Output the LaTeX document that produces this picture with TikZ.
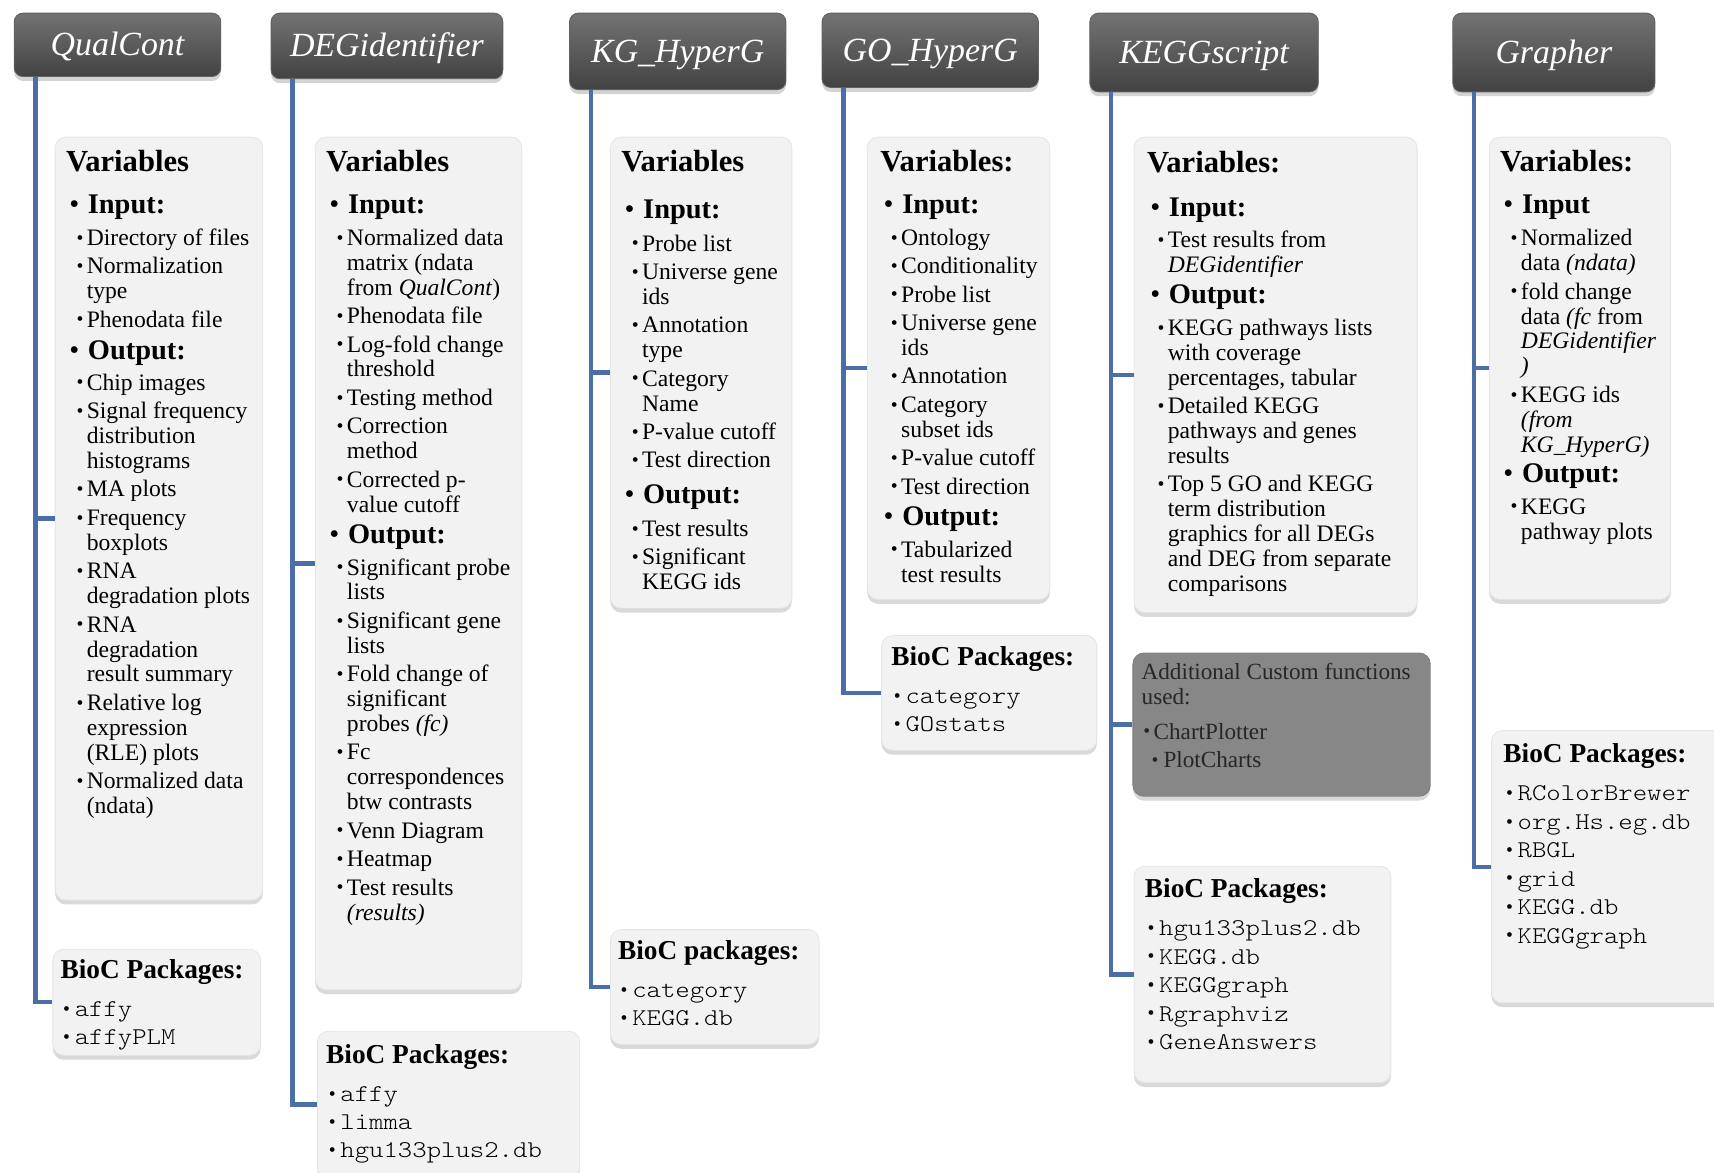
\documentclass[tikz,border=0pt]{standalone}
\usepackage{fontspec}
\setmainfont{Liberation Serif}
\setmonofont{Latin Modern Mono Light}[FakeStretch=1.14]
\usetikzlibrary{shadows}
\definecolor{trunkblue}{RGB}{74,110,165}

\newcommand{\vhd}[1]{{\fontsize{14}{14}\selectfont\bfseries #1}}
\newcommand{\pkhd}[1]{{\rmfamily\fontsize{12.5}{12.5}\selectfont\bfseries #1}}
\newcommand{\lvA}[1]{\hspace*{1.5pt}\makebox[8.5pt][l]{\fontsize{13}{13}\selectfont\textbullet}{\fontsize{13}{13}\selectfont\bfseries #1}}
\newcommand{\lvB}{\hspace*{4.8pt}\makebox[4.7pt][l]{\raisebox{.6pt}{\fontsize{9}{9}\selectfont\textbullet}}}
\newcommand{\lvC}{\hspace*{9.5pt}}
\newcommand{\pk}{\hspace*{1.2pt}\makebox[5.3pt][l]{\rmfamily\raisebox{.6pt}{\fontsize{9}{9}\selectfont\textbullet}}}

\begin{document}
\begin{tikzpicture}[x=0.5pt, y=0.5pt,
  hdr/.style={rounded corners=4pt, top color=black!55, bottom color=black!74, draw=black!62,
    text=white, font=\fontsize{15.5}{16}\selectfont\itshape, text height=10pt, text depth=0pt,
    drop shadow={shadow xshift=0pt, shadow yshift=-2pt, opacity=.35}},
  card/.style={anchor=north west, rounded corners=5pt, inner sep=0pt, fill=black!5, draw=black!10,
    drop shadow={shadow xshift=0pt, shadow yshift=-2pt, opacity=.3}},
  darkcard/.style={card, fill=black!47, draw=black!50},
  txt/.style={anchor=north west, inner sep=0pt, align=left, font=\fontsize{10.8}{11.4}\selectfont},
  pktxt/.style={txt, font=\ttfamily\fontsize{11}{12.8}\selectfont},
  link/.style={trunkblue, line width=2pt}]
  \useasboundingbox (0,0) rectangle (1568,-1073);

  % script headers and the start of their trunks
  \foreach \n/\cx/\cy/\w/\h/\t in {qc/107.5/-41/94.5pt/29pt/QualCont, deg/354/-42/106pt/30pt/DEGidentifier,
      kg/620/-47/99pt/35pt/KG\_HyperG, go/851/-46/99pt/34pt/GO\_HyperG,
      kegg/1101.5/-48/104.5pt/36pt/KEGGscript, gr/1421.5/-48/92.5pt/36pt/Grapher} {
    \node[hdr, minimum width=\w, minimum height=\h] (\n-head) at (\cx,\cy) {\t};
    \coordinate (\n-t) at ([xshift=10pt]\n-head.south west);}

  % QualCont
  \node[card, minimum width=95pt, minimum height=349pt] (qc-var) at (50,-125) {};
  \node[txt] (qc-vartxt) at ([shift={(10,-12)}]qc-var.north west) {\vhd{Variables}\\[8pt]
    \lvA{Input:}\\[3pt]
    \lvB Directory of files\\[1.6pt]
    \lvB Normalization\\ \lvC type\\[1.6pt]
    \lvB Phenodata file\\[3.5pt]
    \lvA{Output:}\\[2.6pt]
    \lvB Chip images\\[1.6pt]
    \lvB Signal frequency\\ \lvC distribution\\ \lvC histograms\\[1.6pt]
    \lvB MA plots\\[1.6pt]
    \lvB Frequency\\ \lvC boxplots\\[1.6pt]
    \lvB RNA\\ \lvC degradation plots\\[1.6pt]
    \lvB RNA\\ \lvC degradation\\ \lvC result summary\\[1.6pt]
    \lvB Relative log\\ \lvC expression\\ \lvC (RLE) plots\\[1.6pt]
    \lvB Normalized data\\ \lvC (ndata)};
  \node[card, minimum width=95pt, minimum height=48.5pt] (qc-pkg) at (48,-868) {};
  \node[pktxt] (qc-pkgtxt) at ([shift={(7,-9)}]qc-pkg.north west) {\pkhd{BioC Packages:}\\[4.7pt]
    \pk affy\\ \pk affyPLM};

  % DEGidentifier
  \node[card, minimum width=94.5pt, minimum height=390pt] (deg-var) at (288,-125) {};
  \node[txt] (deg-vartxt) at ([shift={(10,-12)}]deg-var.north west) {\vhd{Variables}\\[8pt]
    \lvA{Input:}\\[3pt]
    \lvB Normalized data\\ \lvC matrix (ndata\\ \lvC from \textit{QualCont})\\[1.6pt]
    \lvB Phenodata file\\[1.6pt]
    \lvB Log-fold change\\ \lvC threshold\\[1.6pt]
    \lvB Testing method\\[1.6pt]
    \lvB Correction\\ \lvC method\\[1.6pt]
    \lvB Corrected p-\\ \lvC value cutoff\\[3pt]
    \lvA{Output:}\\[3pt]
    \lvB Significant probe\\ \lvC lists\\[1.6pt]
    \lvB Significant gene\\ \lvC lists\\[1.6pt]
    \lvB Fold change of\\ \lvC significant\\ \lvC probes \textit{(fc)}\\[1.6pt]
    \lvB Fc\\ \lvC correspondences\\ \lvC btw contrasts\\[1.6pt]
    \lvB Venn Diagram\\[1.6pt]
    \lvB Heatmap\\[1.6pt]
    \lvB Test results\\ \lvC \textit{(results)}};
  \node[card, minimum width=120pt, minimum height=67pt] (deg-pkg) at (290,-943) {};
  \node[pktxt] (deg-pkgtxt) at ([shift={(8,-12)}]deg-pkg.north west) {\pkhd{BioC Packages:}\\[4.7pt]
    \pk affy\\ \pk limma\\ \pk hgu133plus2.db};

  % KG_HyperG
  \node[card, minimum width=83pt, minimum height=215.5pt] (kg-var) at (558,-125) {};
  \node[txt] (kg-vartxt) at ([shift={(10,-12)}]kg-var.north west) {\vhd{Variables}\\[10pt]
    \lvA{Input:}\\[3.6pt]
    \lvB Probe list\\[1.6pt]
    \lvB Universe gene\\ \lvC ids\\[1.6pt]
    \lvB Annotation\\ \lvC type\\[1.6pt]
    \lvB Category\\ \lvC Name\\[1.6pt]
    \lvB P-value cutoff\\[1.6pt]
    \lvB Test direction\\[5pt]
    \lvA{Output:}\\[3.5pt]
    \lvB Test results\\[1.6pt]
    \lvB Significant\\ \lvC KEGG ids};
  \node[card, minimum width=95.5pt, minimum height=52.5pt] (kg-pkg) at (558,-850) {};
  \node[pktxt] (kg-pkgtxt) at ([shift={(7,-10)}]kg-pkg.north west) {\pkhd{BioC packages:}\\[4.7pt]
    \pk category\\ \pk KEGG.db};

  % GO_HyperG
  \node[card, minimum width=83.5pt, minimum height=211.5pt] (go-var) at (793,-125) {};
  \node[txt] (go-vartxt) at ([shift={(12,-12)}]go-var.north west) {\vhd{Variables:}\\[8pt]
    \lvA{Input:}\\[3pt]
    \lvB Ontology\\[1.6pt]
    \lvB Conditionality\\[1.6pt]
    \lvB Probe list\\[1.6pt]
    \lvB Universe gene\\ \lvC ids\\[1.6pt]
    \lvB Annotation\\[1.6pt]
    \lvB Category\\ \lvC subset ids\\[1.6pt]
    \lvB P-value cutoff\\[1.6pt]
    \lvB Test direction\\[3pt]
    \lvA{Output:}\\[3pt]
    \lvB Tabularized\\ \lvC test results};
  \node[card, minimum width=98.5pt, minimum height=52.5pt] (go-pkg) at (806,-581) {};
  \node[pktxt] (go-pkgtxt) at ([shift={(9,-10)}]go-pkg.north west) {\pkhd{BioC Packages:}\\[4.7pt]
    \pk category\\ \pk GOstats};

  % KEGGscript
  \node[card, minimum width=129.5pt, minimum height=217.5pt] (kegg-var) at (1037,-125) {};
  \node[txt] (kegg-vartxt) at ([shift={(12,-13)}]kegg-var.north west) {\vhd{Variables:}\\[8.5pt]
    \lvA{Input:}\\[3pt]
    \lvB Test results from\\ \lvC \textit{DEGidentifier}\\[3pt]
    \lvA{Output:}\\[3pt]
    \lvB KEGG pathways lists\\ \lvC with coverage\\ \lvC percentages, tabular\\[1.6pt]
    \lvB Detailed KEGG\\ \lvC pathways and genes\\ \lvC results\\[1.6pt]
    \lvB Top 5 GO and KEGG\\ \lvC term distribution\\ \lvC graphics for all DEGs\\ \lvC and DEG from separate\\ \lvC comparisons};
  \node[darkcard, minimum width=136pt, minimum height=65.5pt] (kegg-fun) at (1036,-597) {};
  \node[txt, text=black!85, font=\fontsize{10.6}{11.4}\selectfont] (kegg-funtxt) at ([shift={(8,-9)}]kegg-fun.north west)
    {Additional Custom functions\\ used:\\[4.6pt]
    \hspace*{.8pt}\makebox[4.7pt][l]{\raisebox{.6pt}{\fontsize{9}{9}\selectfont\textbullet}}ChartPlotter\\[1.6pt]
    \hspace*{4.5pt}\makebox[5.5pt][l]{\raisebox{.6pt}{\fontsize{9}{9}\selectfont\textbullet}}PlotCharts};
  \node[card, minimum width=117.5pt, minimum height=99pt] (kegg-pkg) at (1037,-792) {};
  \node[pktxt, font=\ttfamily\fontsize{11}{13}\selectfont] (kegg-pkgtxt) at ([shift={(10,-11)}]kegg-pkg.north west) {\pkhd{BioC Packages:}\\[4.7pt]
    \pk hgu133plus2.db\\ \pk KEGG.db\\ \pk KEGGgraph\\ \pk Rgraphviz\\ \pk GeneAnswers};

  % Grapher
  \node[card, minimum width=83pt, minimum height=211.5pt] (gr-var) at (1362,-125) {};
  \node[txt] (gr-vartxt) at ([shift={(10,-12)}]gr-var.north west) {\vhd{Variables:}\\[8pt]
    \lvA{Input}\\[3pt]
    \lvB Normalized\\ \lvC data \textit{(ndata)}\\[1.8pt]
    \lvB fold change\\ \lvC data \textit{(fc} from\\ \lvC \textit{DEGidentifier}\\ \lvC \textit{)}\\[1.6pt]
    \lvB KEGG ids\\ \lvC \textit{(from}\\ \lvC \textit{KG\_HyperG)}\\[2.6pt]
    \lvA{Output:}\\[3pt]
    \lvB KEGG\\ \lvC pathway plots};
  \node[card, minimum width=110pt, minimum height=124.5pt] (gr-pkg) at (1364,-668) {};
  \node[pktxt, font=\ttfamily\fontsize{11}{13}\selectfont] (gr-pkgtxt) at ([shift={(11,-12)}]gr-pkg.north west) {\pkhd{BioC Packages:}\\[4.5pt]
    \pk RColorBrewer\\ \pk org.Hs.eg.db\\ \pk RBGL\\ \pk grid\\ \pk KEGG.db\\ \pk KEGGgraph};

  % trunks and branches
  \foreach \n/\b in {qc/qc-var, qc/qc-pkg, deg/deg-var, deg/deg-pkg, kg/kg-var, kg/kg-pkg,
      go/go-var, go/go-pkg, kegg/kegg-var, kegg/kegg-fun, kegg/kegg-pkg, gr/gr-var, gr/gr-pkg}
    \draw[link] (\n-t) |- (\b.west);
\end{tikzpicture}
\end{document}
